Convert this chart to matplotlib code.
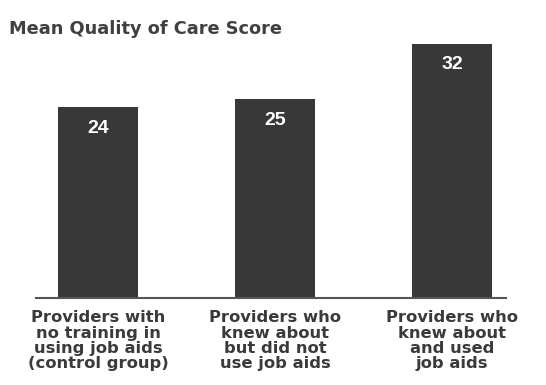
import matplotlib
matplotlib.use("Agg")
import matplotlib.pyplot as plt

categories = ["Providers with\nno training in\nusing job aids\n(control group)",
              "Providers who\nknew about\nbut did not\nuse job aids",
              "Providers who\nknew about\nand used\njob aids"]
values = [24, 25, 32]
title = "Mean Quality of Care Score"

fig = plt.figure(figsize=(5.46, 3.85), dpi=100)
ax = fig.add_axes([36/546, 1-298/385, (506-36)/546, 278/385])
x = range(len(values))
bars = ax.bar(x, values, width=0.45, color="#383838")
ax.set_xlim(-0.35, 2.305)
ax.set_ylim(0, 35)
for s in ["top", "right", "left"]:
    ax.spines[s].set_visible(False)
ax.spines["bottom"].set_color("#555555")
ax.spines["bottom"].set_linewidth(1.5)
ax.set_yticks([])
ax.set_xticks(list(x))
ax.set_xticklabels(categories, fontsize=11.8, fontweight="bold", color="#3a3a3a",
                   linespacing=1.01, family="DejaVu Sans")
ax.tick_params(axis="x", length=0, pad=9)
for xi, v in zip(x, values):
    ax.text(xi, v - 2.6, str(v), ha="center", va="center", color="white",
            fontsize=14, fontweight="bold", family="Liberation Sans")
fig.text(9/546, 1-29/385, title, ha="left", va="center", fontsize=12.8,
         fontweight="bold", color="#404040", family="DejaVu Sans")
fig.savefig("out.png", dpi=100)
